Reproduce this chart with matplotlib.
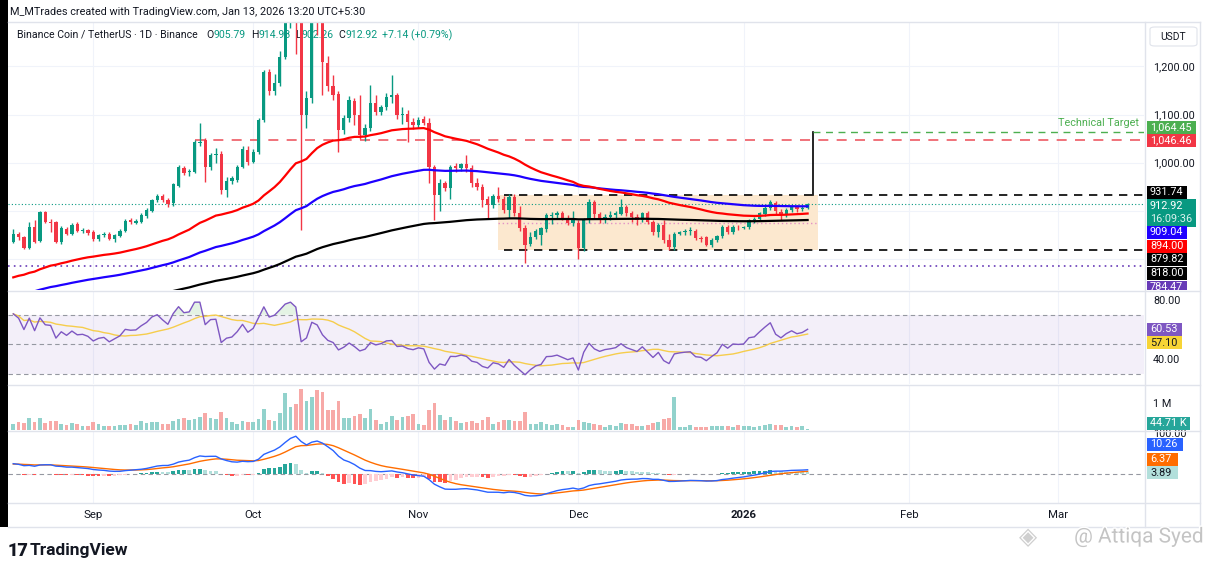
import numpy as np
import pandas as pd
import matplotlib
matplotlib.use("Agg")
import matplotlib.pyplot as plt
import matplotlib.dates as mdates
import matplotlib.patheffects as pe
from matplotlib.patches import Rectangle, FancyBboxPatch
from matplotlib.lines import Line2D
from matplotlib.transforms import Bbox

plt.rcParams['font.family'] = ['Roboto', 'DejaVu Sans']

W, H = 1209, 562

# ---------------- data ----------------
dates = pd.date_range("2025-08-17", periods=150, freq="D")

opens = [835, 851, 844, 821, 866, 837, 897, 877, 876, 835,
         861, 851, 872, 858, 859, 856, 840, 849, 852, 840,
         847, 858, 880, 875, 877, 888, 900, 922, 931, 922,
         915, 952, 988, 980, 981, 1040, 1047, 990, 1016, 1018,
         943, 962, 964, 991, 1027, 1002, 1022, 1088, 1189, 1148,
         1165, 1220, 1292, 1320, 1300, 1100, 1134, 1310, 1290, 1207,
         1160, 1142, 1068, 1092, 1128, 1098, 1057, 1071, 1125, 1106,
         1116, 1137, 1140, 1099, 1102, 1085, 1078, 1090, 1082, 991,
         932, 957, 946, 992, 989, 996, 988, 957, 949, 923,
         911, 930, 923, 902, 929, 894, 863, 831, 845, 850,
         861, 888, 891, 895, 884, 873, 873, 821, 880, 918,
         892, 880, 887, 890, 893, 908, 894, 887, 880, 894,
         876, 856, 870, 838, 825, 852, 855, 857, 858, 842,
         845, 829, 838, 846, 866, 856, 866, 864, 866, 880,
         882, 892, 906, 915, 897, 890, 901, 908, 903, 905.79]

highs = [861, 856, 846, 877, 880, 900, 900, 883, 879, 868,
         866, 873, 876, 864, 862, 859, 852, 856, 856, 851,
         861, 882, 885, 882, 894, 906, 925, 935, 935, 926,
         958, 995, 993, 986, 1047, 1082, 1052, 1020, 1030, 1024,
         970, 972, 995, 1035, 1035, 1028, 1092, 1192, 1195, 1185,
         1232, 1300, 1340, 1345, 1310, 1150, 1330, 1370, 1300, 1222,
         1183, 1150, 1100, 1138, 1134, 1140, 1080, 1161, 1140, 1120,
         1145, 1182, 1145, 1115, 1110, 1092, 1095, 1096, 1092, 995,
         965, 962, 995, 998, 1000, 1016, 995, 968, 955, 930,
         935, 950, 930, 935, 935, 910, 870, 856, 862, 866,
         895, 897, 900, 900, 890, 898, 880, 885, 925, 922,
         897, 892, 898, 900, 925, 912, 898, 893, 897, 898,
         880, 875, 880, 852, 856, 858, 862, 866, 862, 846,
         847, 842, 849, 870, 870, 870, 869, 868, 883, 886,
         897, 910, 922, 920, 903, 905, 911, 912, 912, 914.98]

lows = [833, 839, 819, 819, 833, 835, 875, 856, 833, 831,
        848, 848, 855, 853, 850, 836, 836, 845, 838, 835,
        844, 855, 872, 871, 874, 885, 897, 918, 918, 908,
        910, 948, 975, 972, 978, 1035, 960, 985, 1000, 935,
        929, 955, 960, 988, 995, 998, 1018, 1085, 1140, 1140,
        1160, 1215, 1280, 1225, 860, 1071, 1125, 1265, 1140, 1150,
        1130, 1022, 1060, 1085, 1078, 1050, 1045, 1065, 1098, 1098,
        1110, 1125, 1090, 1080, 1043, 1070, 1072, 1078, 957, 880,
        898, 940, 925, 980, 982, 980, 950, 942, 908, 884,
        905, 918, 895, 884, 888, 858, 790, 826, 840, 828,
        855, 872, 885, 880, 870, 868, 800, 815, 875, 885,
        873, 875, 880, 885, 890, 888, 876, 870, 876, 872,
        850, 845, 832, 818, 818, 849, 848, 849, 838, 835,
        826, 824, 835, 843, 852, 852, 860, 861, 862, 874,
        878, 888, 902, 893, 880, 886, 897, 897, 899, 902.26]

closes = [852, 844, 821, 866, 835, 897, 877, 875, 835, 863,
          851, 870, 858, 860, 854, 840, 849, 852, 840, 849,
          858, 879, 877, 878, 891, 902, 922, 931, 922, 914,
          955, 991, 979, 983, 1043, 1043, 990, 1016, 1018, 943,
          962, 967, 991, 1029, 1002, 1022, 1088, 1189, 1148, 1165,
          1220, 1292, 1320, 1300, 1100, 1134, 1310, 1290, 1210, 1160,
          1140, 1068, 1092, 1130, 1098, 1057, 1071, 1125, 1106, 1116,
          1137, 1140, 1099, 1102, 1085, 1078, 1088, 1082, 991, 932,
          957, 946, 990, 989, 996, 988, 957, 949, 922, 911,
          930, 923, 902, 929, 894, 863, 828, 845, 858, 863,
          890, 891, 895, 885, 875, 880, 821, 880, 918, 892,
          880, 887, 890, 894, 908, 894, 887, 880, 894, 876,
          856, 870, 838, 825, 852, 855, 857, 858, 842, 840,
          829, 838, 846, 866, 856, 866, 865, 866, 880, 882,
          894, 906, 918, 898, 891, 901, 908, 903, 905.79, 912.92]

# volume in millions
volumes = [0.21, 0.28, 0.27, 0.43, 0.31, 0.46, 0.26, 0.33, 0.35, 0.22,
           0.19, 0.27, 0.21, 0.14, 0.14, 0.28, 0.21, 0.16, 0.15, 0.16,
           0.19, 0.19, 0.21, 0.19, 0.33, 0.25, 0.28, 0.28, 0.21, 0.21,
           0.35, 0.41, 0.43, 0.38, 0.41, 0.49, 0.63, 0.46, 0.41, 0.67,
           0.43, 0.31, 0.23, 0.33, 0.31, 0.31, 0.41, 0.78, 0.37, 0.33,
           0.63, 1.37, 0.85, 0.95, 1.52, 1.07, 1.22, 1.48, 1.41, 0.73,
           0.75, 1.09, 0.44, 0.44, 0.51, 0.58, 0.43, 0.79, 0.37, 0.21,
           0.28, 0.52, 0.37, 0.48, 0.51, 0.58, 0.21, 0.19, 0.73, 1.00,
           0.56, 0.37, 0.48, 0.33, 0.27, 0.31, 0.33, 0.27, 0.37, 0.48,
           0.21, 0.28, 0.37, 0.37, 0.33, 0.33, 0.67, 0.21, 0.21, 0.28,
           0.21, 0.19, 0.21, 0.19, 0.12, 0.12, 0.37, 0.28, 0.26, 0.21,
           0.19, 0.11, 0.19, 0.16, 0.26, 0.22, 0.22, 0.16, 0.14, 0.19,
           0.26, 0.28, 0.40, 0.46, 1.23, 0.11, 0.11, 0.19, 0.12, 0.12,
           0.11, 0.16, 0.14, 0.14, 0.16, 0.11, 0.19, 0.14, 0.16, 0.11,
           0.16, 0.19, 0.21, 0.19, 0.19, 0.11, 0.14, 0.11, 0.16, 0.045]

month_ticks = ["2025-09-01", "2025-10-01", "2025-11-01", "2025-12-01",
               "2026-01-01", "2026-02-01", "2026-03-01"]
month_labels = ["Sep", "Oct", "Nov", "Dec", "2026", "Feb", "Mar"]

# drawn levels
target_price = 1064.45
red_level = 1046.46
box_top = 931.74
box_bottom = 818.00
purple_level = 784.47
last_price = 912.92
red_level_start = "2025-09-20"
box_start, box_end = "2025-11-16", "2026-01-15"
box_lines_start = "2025-11-17"
target_date = "2026-01-14"

# indicator seeds (values just before the first visible candle)
ema_seeds = {50: 757, 100: 720, 200: 681}
macd_seeds = (838, 812, 24)
rsi_seed = (9.5, 4.5)

# ---------------- indicators ----------------
def ema(values, length, start):
    alpha = 2.0 / (length + 1)
    out = np.empty(len(values))
    prev = start
    for i, v in enumerate(values):
        prev = prev + alpha * (v - prev)
        out[i] = prev
    return out


def rsi(op, cl, length, gain0, loss0):
    deltas = np.diff(np.concatenate([[op[0]], cl]))
    ag, al = gain0, loss0
    out = []
    for d in deltas:
        ag = (ag * (length - 1) + max(d, 0)) / length
        al = (al * (length - 1) + max(-d, 0)) / length
        out.append(100 - 100 / (1 + ag / al))
    return np.array(out)


o = np.array(opens, dtype=float)
h = np.array(highs, dtype=float)
l = np.array(lows, dtype=float)
c = np.array(closes, dtype=float)
v = np.array(volumes, dtype=float)

ema50 = ema(c, 50, ema_seeds[50])
ema100 = ema(c, 100, ema_seeds[100])
ema200 = ema(c, 200, ema_seeds[200])

rsi_line = rsi(o, c, 14, *rsi_seed)
rsi_ma = pd.Series(rsi_line).rolling(14, min_periods=1).mean().values

macd_line = ema(c, 12, macd_seeds[0]) - ema(c, 26, macd_seeds[1])
signal_line = ema(macd_line, 9, macd_seeds[2])
hist = macd_line - signal_line

# ---------------- layout ----------------
UP, DOWN = '#089981', '#f23645'
GRID = '#f0f3fa'
TXT = '#131722'

x = mdates.date2num(dates.to_pydatetime())
month_x = mdates.date2num(pd.to_datetime(month_ticks).to_pydatetime())
x_left, x_right = x[0] - 0.99, x[0] + 212.1


def dnum(s):
    return mdates.date2num(pd.Timestamp(s).to_pydatetime())


fig = plt.figure(figsize=(W / 100, H / 100), dpi=100)
fig.patch.set_facecolor('white')


def px_axes(left, top, right, bottom):
    ax = fig.add_axes([left / W, 1 - bottom / H, (right - left) / W, (bottom - top) / H])
    ax.set_facecolor('none')
    for s in ax.spines.values():
        s.set_visible(False)
    ax.set_xlim(x_left, x_right)
    ax.tick_params(axis='x', length=0, labelbottom=False)
    ax.yaxis.tick_right()
    ax.tick_params(axis='y', length=0, pad=6.5, labelsize=7.8, labelcolor=TXT)
    for m in month_x:
        ax.axvline(m, color=GRID, lw=0.8, zorder=0)
    return ax


ax = px_axes(8, 22, 1144, 290)
ax_rsi = px_axes(8, 291, 1144, 384)
ax_vol = px_axes(8, 385, 1144, 430)
ax_macd = px_axes(8, 431, 1144, 503)

# ---- main price pane ----
ax.set_ylim(734.4, 1292.7)
for p in [800, 900, 1000, 1100, 1200]:
    ax.axhline(p, color=GRID, lw=0.8, zorder=0)
ax.set_yticks([1000, 1100, 1200])
ax.set_yticklabels([f"{p:,.2f}" for p in [1000, 1100, 1200]])

colors = np.where(c >= o, UP, DOWN)
ax.vlines(x, l, h, colors=colors, lw=1, zorder=3)
ax.bar(x, np.maximum(np.abs(c - o), 1.5), bottom=np.minimum(o, c), width=0.62,
       color=colors, linewidth=0, zorder=3.5)

ax.plot(x, ema200, color='black', lw=1.6, zorder=4)
ax.plot(x, ema100, color='#1e00ff', lw=1.6, zorder=4)
ax.plot(x, ema50, color='#ff0000', lw=1.6, zorder=4)

# box and drawings
bx0, bx1 = dnum(box_start), dnum(box_end)
ax.add_patch(Rectangle((bx0, box_bottom), bx1 - bx0, box_top - box_bottom,
                       fc='#fce8cf', ec='none', zorder=1))
ax.plot([bx0, bx1], [(box_top + box_bottom) / 2] * 2, color='#e291c6', lw=1,
        ls=(0, (1, 2)), zorder=1.5)
bl0 = dnum(box_lines_start)
ax.plot([bl0, x_right], [box_top] * 2, color='black', lw=1.2, ls=(0, (5, 4)), zorder=2)
ax.plot([bl0, x_right], [box_bottom] * 2, color='black', lw=1.2, ls=(0, (5, 4)), zorder=2)
ax.plot([dnum(red_level_start), x_right], [red_level] * 2, color='#ee5a63', lw=1.2,
        ls=(0, (6, 5)), zorder=2)
ax.plot([x_left, x_right], [purple_level] * 2, color='#673ab7', lw=1.2,
        ls=(0, (1, 2.5)), zorder=2)
ax.plot([x_left, x_right], [last_price] * 2, color=UP, lw=0.8, ls=(0, (1, 2)), zorder=2)
tx = dnum(target_date)
ax.plot([tx, tx], [box_top, target_price], color='black', lw=1.2, zorder=2)
ax.plot([tx, x_right], [target_price] * 2, color='#4caf50', lw=1, ls=(0, (5, 4)), zorder=2)

# ---- RSI pane ----
ax_rsi.set_ylim(23.05, 86.1)
ax_rsi.axhspan(30, 70, color='#7e57c2', alpha=0.09, lw=0, zorder=0)
for lv in [70, 50, 30]:
    ax_rsi.axhline(lv, color='#9598a1', lw=0.8, ls=(0, (4, 3)), zorder=1)
ax_rsi.fill_between(x, 70, rsi_line, where=rsi_line > 70, color='#4caf50', alpha=0.15,
                    lw=0, interpolate=True, zorder=1)
ax_rsi.fill_between(x, 30, rsi_line, where=rsi_line < 30, color='#f23645', alpha=0.15,
                    lw=0, interpolate=True, zorder=1)
ax_rsi.plot(x, rsi_ma, color='#f6cd4c', lw=1, zorder=2)
ax_rsi.plot(x, rsi_line, color='#7e57c2', lw=1, zorder=3)
ax_rsi.set_yticks([40, 80])
ax_rsi.set_yticklabels(["40.00", "80.00"])

# ---- volume pane ----
ax_vol.set_ylim(0, 45 / 27)
vol_colors = np.where(c >= o, '#92d2cc', '#f7a9a7')
ax_vol.bar(x, v, width=0.7, color=vol_colors, linewidth=0, zorder=2)
ax_vol.set_yticks([1])
ax_vol.set_yticklabels(["1 M"])

# ---- MACD pane ----
ax_macd.set_ylim(-70.7, 104.9)
ax_macd.axhline(0, color='#9598a1', lw=0.8, ls=(0, (4, 3)), zorder=1)
prev = np.concatenate([[hist[0]], hist[:-1]])
hist_colors = np.where(hist >= 0,
                       np.where(hist > prev, '#26a69a', '#b2dfdb'),
                       np.where(hist < prev, '#ff5252', '#ffcdd2'))
ax_macd.bar(x, hist, width=0.7, color=hist_colors, linewidth=0, zorder=2)
ax_macd.plot(x, signal_line, color='#ff6d00', lw=1, zorder=3)
ax_macd.plot(x, macd_line, color='#2962ff', lw=1, zorder=4)
ax_macd.set_yticks([100])
ax_macd.set_yticklabels(["100.00"])
ax_macd.set_xticks(month_x)
ax_macd.set_xticklabels(month_labels)
ax_macd.tick_params(axis='x', labelbottom=True, labelsize=8.2, labelcolor=TXT, pad=5)
for t in ax_macd.get_xticklabels():
    if t.get_text() == "2026":
        t.set_fontweight('bold')

# ---------------- frame ----------------
def fline(x0, y0, x1, y1, color='#e0e3eb', lw=1):
    fig.add_artist(Line2D([x0 / W, x1 / W], [1 - y0 / H, 1 - y1 / H], color=color, lw=lw,
                          transform=fig.transFigure))


fline(8, 21.5, 1200, 21.5)
for yy in [290.5, 384.5, 430.5, 503, 527]:
    fline(8, yy, 1200, yy)
fline(1144.5, 21.5, 1144.5, 527)
fline(1200, 21.5, 1200, 527)
fig.add_artist(Rectangle((0, 1 - 527 / H), 8 / W, 527 / H, transform=fig.transFigure,
                         fc='black', ec='none'))

# header texts
fig.text(10 / W, 1 - 12 / H, "M_MTrades created with TradingView.com, Jan 13, 2026 13:20 UTC+5:30",
         fontsize=7.8, color=TXT, va='center')
hdr = [(17, "Binance Coin / TetherUS · 1D · Binance", TXT, 8),
       (192, "O", TXT, 0), (199, "905.79", UP, 4),
       (232, "H", TXT, 0), (239, "914.98", UP, 4),
       (280, "L", TXT, 0), (286, "902.26", UP, 4),
       (322, "C", TXT, 0), (329, "912.92", UP, 4),
       (364, "+7.14 (+0.79%)", UP, 0)]
renderer = fig.canvas.get_renderer()
cursor = 0
for hx, s, col, gap in hdr:
    px = max(hx, cursor)
    t = ax.text(px / W, 1 - 35 / H, s, transform=fig.transFigure, fontsize=7.6, color=col,
                va='center', zorder=1)
    bb = t.get_window_extent(renderer=renderer)
    cursor = bb.x1 + 0.5 + gap

# USDT box
fig.add_artist(FancyBboxPatch((1150 / W, 1 - 46 / H), 47 / W, 19 / H, transform=fig.transFigure,
                              boxstyle='round,pad=0,rounding_size=0.004', fc='white',
                              ec='#e0e3eb', lw=0.8))
fig.text(1173.5 / W, 1 - 36.5 / H, "USDT", fontsize=7.4, color=TXT, ha='center', va='center')

fig.text(1139 / W, 1 - 123 / H, "Technical Target", fontsize=7.8, color='#4caf50',
         ha='right', va='center')

# price scale badges
main_clip = Bbox.from_extents(1140, H - 290, 1209, H - 22)


def badge(yc, text, fc, tc='white', width=40, height=13, clip=None):
    r = Rectangle((1146.7 / W, 1 - (yc + height / 2) / H), width / W, height / H,
                  transform=fig.transFigure, fc=fc, ec='none', zorder=10)
    fig.add_artist(r)
    t = fig.text(1150 / W, 1 - yc / H, text, fontsize=7.8, color=tc, va='center',
                 ha='left', zorder=11)
    if clip is not None:
        r.set_clip_box(clip)
        r.set_clip_on(True)
        t.set_clip_box(clip)
        t.set_clip_on(True)


badge(127.3, "1,064.45", '#4caf50', width=49)
badge(140.7, "1,046.46", '#f23645', width=49)
badge(192.3, "931.74", 'black')
r = Rectangle((1146.7 / W, 1 - 226.5 / H), 49 / W, 27.5 / H, transform=fig.transFigure,
              fc=UP, ec='none', zorder=10)
fig.add_artist(r)
fig.text(1150 / W, 1 - 205.7 / H, "912.92", fontsize=7.8, color='white', va='center', zorder=11)
fig.text(1150 / W, 1 - 219.3 / H, "16:09:36", fontsize=7.8, color='#d9f2ee', va='center', zorder=11)
badge(232.0, "909.04", '#1e00ff')
badge(246.0, "894.00", '#ff0000')
badge(259.5, "879.82", 'black')
badge(273.5, "818.00", 'black')
badge(287.0, "784.47", '#673ab7', clip=main_clip)

badge(329.3, "60.53", '#7e57c2', width=35)
badge(342.7, "57.10", '#f7d436', tc=TXT, width=35)
badge(423.3, "44.71 K", '#26a69a', width=43)
badge(444.3, "10.26", '#2962ff', width=36)
badge(459.0, "6.37", '#ff6d00', width=31)
badge(472.7, "3.89", '#b2dfdb', tc=TXT, width=31)

# footer
fig.text(8 / W, 1 - 551 / H, "17", fontsize=13, fontweight='black', color=TXT, va='center')
fig.text(30 / W, 1 - 551 / H, "TradingView", fontsize=12.5, fontweight='bold', color=TXT, va='center')
fig.text(1028 / W, 1 - 537 / H, "◈", fontsize=17, color='#cfcfcf', ha='center', va='center',
         family='DejaVu Sans')
wm = fig.text(1204 / W, 1 - 537 / H, "@ Attiqa Syed", fontsize=15, color='#c4c4c4',
              ha='right', va='center')
wm.set_path_effects([pe.withStroke(linewidth=2, foreground='white')])

fig.savefig("out.png", dpi=100, facecolor='white')
